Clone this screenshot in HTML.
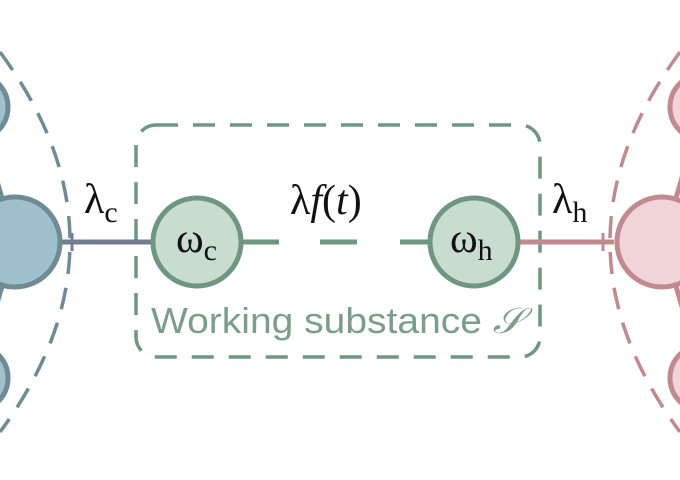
<!DOCTYPE html>
<html><head><style>body{margin:0;background:#fff}svg{display:block}</style></head><body>
<svg width="680" height="480" viewBox="0 0 680 480" xmlns="http://www.w3.org/2000/svg">
<path d="M0,52 Q140,242 0,432" fill="none" stroke="#6f8b96" stroke-width="3.5" stroke-dasharray="22,14"/>
<path d="M680,52 Q540,242 680,432" fill="none" stroke="#c08a8f" stroke-width="3.5" stroke-dasharray="22,14"/>
<rect x="136" y="125" width="404" height="232" rx="20" fill="none" stroke="#6e9680" stroke-width="3.5" stroke-dasharray="22,15"/>
<line x1="15" y1="242" x2="-25" y2="107" stroke="#6f8b96" stroke-width="5"/>
<line x1="15" y1="242" x2="-25" y2="378" stroke="#6f8b96" stroke-width="5"/>
<circle cx="-25" cy="107" r="33" fill="#9fc0cc" stroke="#6f8b96" stroke-width="5"/>
<circle cx="-25" cy="378" r="33" fill="#9fc0cc" stroke="#6f8b96" stroke-width="5"/>
<line x1="62" y1="242" x2="152" y2="242" stroke="#737d90" stroke-width="5"/>
<line x1="72" y1="233" x2="72" y2="251" stroke="#737d90" stroke-width="3"/>
<circle cx="15" cy="242" r="45" fill="#9fc0cc" stroke="#6f8b96" stroke-width="5"/>
<line x1="663" y1="242" x2="703" y2="107" stroke="#c08a8f" stroke-width="5"/>
<line x1="663" y1="242" x2="703" y2="378" stroke="#c08a8f" stroke-width="5"/>
<circle cx="703" cy="107" r="33" fill="#f0d4d8" stroke="#c08a8f" stroke-width="5"/>
<circle cx="703" cy="378" r="33" fill="#f0d4d8" stroke="#c08a8f" stroke-width="5"/>
<line x1="518" y1="242" x2="614" y2="242" stroke="#c08a8f" stroke-width="5"/>
<line x1="603" y1="233" x2="603" y2="251" stroke="#c08a8f" stroke-width="3"/>
<circle cx="662" cy="242" r="45" fill="#f0d4d8" stroke="#c08a8f" stroke-width="5"/>
<g stroke="#6e9680" stroke-width="5">
<line x1="240" y1="242" x2="279" y2="242"/>
<line x1="320" y1="242" x2="357" y2="242"/>
<line x1="400" y1="242" x2="430" y2="242"/>
</g>
<circle cx="197" cy="242" r="44" fill="#c8dcd0" stroke="#6e9680" stroke-width="5"/>
<circle cx="474" cy="242" r="44" fill="#c8dcd0" stroke="#6e9680" stroke-width="5"/>
<g font-family="Liberation Serif, serif" fill="#111">
<text x="176" y="252" font-size="42">ω<tspan font-size="30" dy="8">c</tspan></text>
<text x="450" y="252" font-size="42">ω<tspan font-size="30" dy="8">h</tspan></text>
<text x="84" y="213" font-size="42">λ<tspan font-size="30" dy="9">c</tspan></text>
<text x="552" y="213" font-size="42">λ<tspan font-size="30" dy="9">h</tspan></text>
<text x="290" y="214" font-size="42">λ<tspan font-style="italic">f</tspan>(<tspan font-style="italic">t</tspan>)</text>
</g>
<text x="151" y="333" font-family="Liberation Sans, sans-serif" font-size="36" fill="#7a9e8a" textLength="372" lengthAdjust="spacingAndGlyphs">Working substance <tspan font-style="italic" font-family="Liberation Serif, serif">𝒮</tspan></text>
</svg>
</body></html>
